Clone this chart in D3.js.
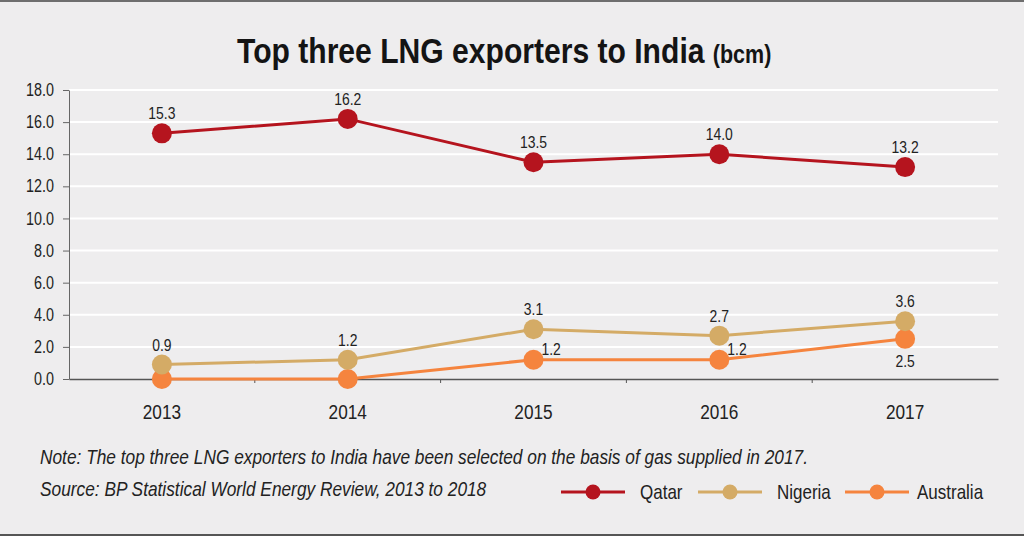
<!DOCTYPE html>
<html>
<head>
<meta charset="utf-8">
<script src="https://cdn.jsdelivr.net/npm/d3@7"></script>
<style>
  body { margin: 0; background: #fff; }
  svg { display: block; }
  svg text { font-family: "Liberation Sans", Arial, sans-serif; fill: #222; }
</style>
</head>
<body>
<svg width="1024" height="539"></svg>
<script>
// data (bcm)
const years = ["2013", "2014", "2015", "2016", "2017"];
const qatar = [15.3, 16.2, 13.5, 14.0, 13.2];
const nigeria = [0.9, 1.2, 3.1, 2.7, 3.6];
const australia = [0, 0, 1.2, 1.2, 2.5];
const yTicks = [0, 2, 4, 6, 8, 10, 12, 14, 16, 18];

const series = [
  { name: "Qatar", values: qatar, color: "#b5141e", label: "above" },
  { name: "Nigeria", values: nigeria, color: "#d4ab66", label: "above" },
  { name: "Australia", values: australia, color: "#f5843e", label: "right" }
];

// no narrow font installed, so squeeze text horizontally around its anchor
function squeeze(sel, k) {
  sel.each(function() {
    const t = d3.select(this);
    const tx = +t.attr("x") || 0, ty = +t.attr("y") || 0;
    t.attr("x", 0).attr("y", 0)
      .attr("transform", `translate(${tx},${ty}) scale(${k},1)`);
  });
}

const svg = d3.select("svg");
const width = +svg.attr("width");
const height = +svg.attr("height");
const margin = { top: 90, bottom: 160, left: 69, right: 26 };

// background + frame lines
svg.append("rect").attr("width", width).attr("height", 535).attr("fill", "#eeedee");
svg.append("line").attr("x1", 0).attr("x2", width).attr("y1", 1).attr("y2", 1)
  .attr("stroke", "#6e6e6e").attr("stroke-width", 2);
svg.append("line").attr("x1", 0).attr("x2", width).attr("y1", 535).attr("y2", 535)
  .attr("stroke", "#555").attr("stroke-width", 2);

const x = d3.scaleBand()
  .domain(years)
  .range([margin.left, width - margin.right])
  .padding(0);
const y = d3.scaleLinear()
  .domain([0, 18])
  .range([height - margin.bottom, margin.top]);
const cx = d => x(d) + x.bandwidth() / 2;

// title
const title = svg.append("text")
  .attr("x", 237).attr("y", 63)
  .attr("font-weight", "bold")
  .style("fill", "#141414");
title.append("tspan").attr("font-size", 35).text("Top three LNG exporters to India ");
title.append("tspan").attr("font-size", 25).text("(bcm)");
squeeze(title, 0.86);

// gridlines
svg.append("g")
  .selectAll("line")
  .data(yTicks.filter(d => d > 0))
  .join("line")
  .attr("x1", margin.left).attr("x2", width - margin.right)
  .attr("y1", d => y(d)).attr("y2", d => y(d))
  .attr("stroke", "#fff").attr("stroke-width", 2);

// y axis
svg.append("g")
  .attr("transform", `translate(${margin.left},0)`)
  .call(d3.axisLeft(y).tickValues(yTicks).tickFormat(d3.format(".1f")).tickSize(6).tickPadding(9).tickSizeOuter(0))
  .call(g => g.selectAll("text").attr("font-size", 17.5).attr("font-family", null).call(squeeze, 0.82))
  .call(g => g.selectAll("line, path").attr("stroke", "#666"));

// x axis (labels centred, ticks between years)
const gx = svg.append("g")
  .attr("transform", `translate(0,${y(0)})`)
  .call(d3.axisBottom(x).tickSize(0).tickPadding(25).tickSizeOuter(0))
  .call(g => g.selectAll("text").attr("font-size", 20.5).attr("font-family", null).call(squeeze, 0.84))
  .call(g => g.select(".domain").attr("stroke", "#555").attr("stroke-width", 1.5));
gx.selectAll(".sep")
  .data(years.slice(0, -1))
  .join("line")
  .attr("class", "sep")
  .attr("x1", d => x(d) + x.bandwidth()).attr("x2", d => x(d) + x.bandwidth())
  .attr("y1", 0).attr("y2", 4)
  .attr("stroke", "#555");

// lines, markers (drawn bottom series first)
const line = d3.line()
  .x((d, i) => cx(years[i]))
  .y(d => y(d));

series.slice().reverse().forEach(s => {
  const g = svg.append("g");
  g.append("path")
    .attr("d", line(s.values))
    .attr("fill", "none")
    .attr("stroke", s.color)
    .attr("stroke-width", 3);
  g.selectAll("circle")
    .data(s.values)
    .join("circle")
    .attr("cx", (d, i) => cx(years[i]))
    .attr("cy", d => y(d))
    .attr("r", 10)
    .attr("fill", s.color);
});

// value labels
series.forEach(s => {
  svg.append("g")
    .selectAll("text")
    .data(s.values.map((v, i) => ({ v, year: years[i], last: i === years.length - 1 })).filter(d => d.v > 0))
    .join("text")
    .attr("font-size", 17)
    .attr("text-anchor", d => s.label === "right" && !d.last ? "start" : "middle")
    .attr("x", d => s.label === "right" && !d.last ? cx(d.year) + 8 : cx(d.year))
    .attr("y", d => {
      if (s.label === "right") return d.last ? y(d.v) + 28 : y(d.v) - 5;
      return y(d.v) - 14;
    })
    .text(d => d3.format(".1f")(d.v))
    .call(squeeze, 0.82);
});

// notes
const notes = [
  "Note: The top three LNG exporters to India have been selected on the basis of gas supplied in 2017.",
  "Source: BP Statistical World Energy Review, 2013 to 2018"
];
svg.append("g")
  .selectAll("text")
  .data(notes)
  .join("text")
  .attr("x", 40)
  .attr("y", (d, i) => 464 + i * 32)
  .attr("font-style", "italic")
  .attr("font-size", 20)
  .text(d => d)
  .call(squeeze, 0.865);

// legend
const legendX = [561, 698, 845];
const legend = svg.append("g")
  .selectAll("g")
  .data(series)
  .join("g")
  .attr("transform", (d, i) => `translate(${legendX[i]},492)`);
legend.append("line")
  .attr("x1", 0).attr("x2", 64)
  .attr("stroke", d => d.color).attr("stroke-width", 3);
legend.append("circle")
  .attr("cx", 32).attr("r", 7.5)
  .attr("fill", d => d.color);
legend.append("text")
  .attr("x", (d, i) => i === 2 ? 72 : 79)
  .attr("y", 7)
  .attr("font-size", 20)
  .text(d => d.name)
  .call(squeeze, 0.85);
</script>
</body>
</html>
